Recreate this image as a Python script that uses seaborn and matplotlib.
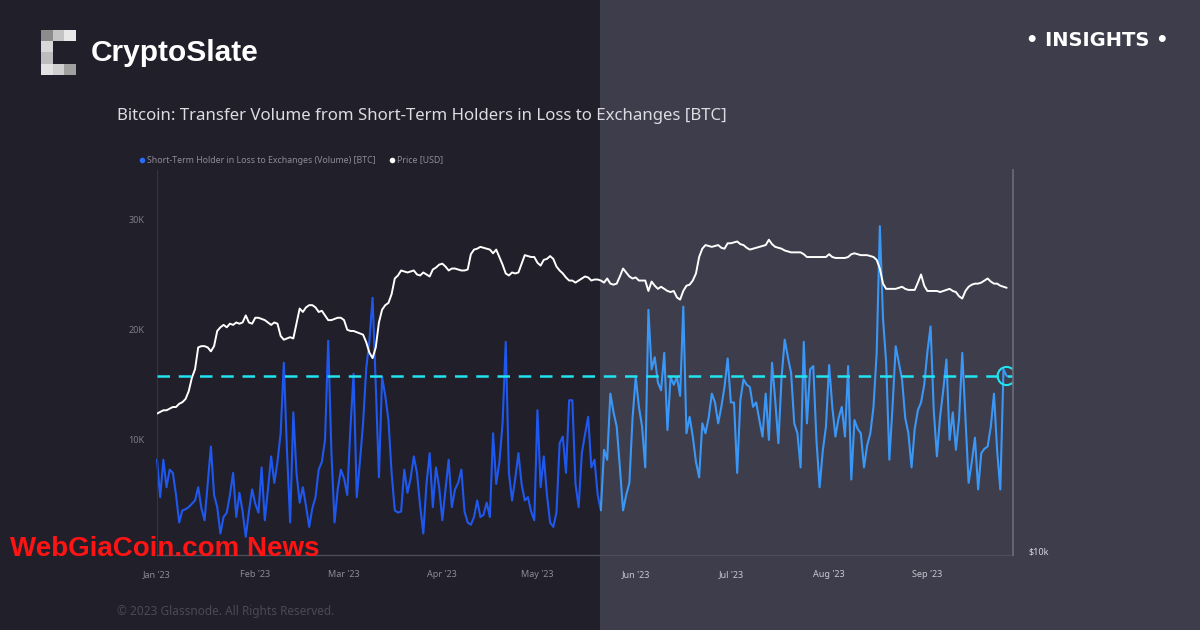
import numpy as np
import pandas as pd
import matplotlib
matplotlib.use("Agg")
import matplotlib.pyplot as plt
import matplotlib.dates as mdates
import matplotlib.ticker as mticker
from matplotlib.lines import Line2D
from matplotlib.patches import Rectangle
from matplotlib.transforms import Bbox, TransformedBbox
import seaborn as sns

# Volumen diario STH en pérdida -> exchanges (miles de BTC), por mes
vol_jan = [8.2, 4.8, 8.2, 5.7, 7.3, 7.0, 5.0, 2.5, 3.6, 3.7, 3.9, 4.2, 4.5, 5.7, 3.8, 2.7,
           6.0, 9.4, 5.0, 3.9, 1.5, 3.0, 3.4, 5.0, 7.0, 3.0, 5.2, 3.5, 1.2, 3.5, 5.5]
vol_feb = [4.2, 3.4, 7.5, 2.7, 5.5, 8.5, 6.1, 8.0, 10.6, 17.0, 9.0, 2.5, 12.5, 7.0, 4.3,
           5.7, 4.0, 2.1, 3.8, 4.8, 7.3, 8.0, 10.0, 19.0, 9.0, 2.5, 5.5, 7.3]
vol_mar = [6.5, 5.0, 11.0, 16.0, 4.8, 8.0, 11.5, 16.5, 19.0, 22.9, 15.0, 6.6, 15.7, 14.0,
           11.8, 7.0, 3.6, 3.4, 3.5, 7.3, 5.2, 6.5, 8.5, 7.0, 4.0, 1.5, 6.0, 8.8, 3.9, 7.5, 5.7]
vol_apr = [2.7, 5.5, 8.2, 3.9, 5.5, 6.1, 7.3, 3.5, 2.5, 2.3, 3.0, 4.5, 3.0, 3.2, 4.3,
           3.0, 10.6, 6.0, 8.0, 11.5, 18.9, 7.0, 4.5, 6.5, 8.8, 6.0, 4.5, 4.8, 3.5, 2.7]
vol_may = [12.7, 5.7, 8.5, 5.0, 2.5, 2.1, 3.4, 9.7, 10.3, 7.0, 13.6, 13.6, 6.0, 3.9, 8.8,
           10.5, 12.1, 7.5, 8.2, 5.0, 3.6, 9.1, 8.2, 14.2, 12.5, 11.2, 7.5, 3.6, 5.0, 6.1, 12.0]
vol_jun = [15.7, 13.0, 11.2, 7.5, 21.8, 16.4, 17.5, 15.2, 14.5, 17.9, 10.9, 15.7, 15.0,
           15.7, 14.0, 22.1, 10.6, 12.1, 10.3, 8.0, 6.6, 11.5, 10.6, 12.0, 14.2, 13.4,
           11.5, 13.0, 14.8, 17.4]
vol_jul = [13.4, 13.4, 7.0, 13.6, 15.5, 15.0, 14.8, 13.0, 13.4, 11.8, 10.3, 14.2, 10.0,
           17.0, 13.6, 9.7, 15.7, 19.1, 17.5, 16.1, 11.5, 10.6, 7.5, 18.9, 11.5, 16.4,
           16.7, 10.0, 5.7, 9.0, 11.2]
vol_aug = [16.8, 13.0, 10.3, 12.0, 13.0, 10.3, 16.7, 6.4, 11.8, 11.0, 10.6, 7.5, 9.5,
           10.6, 13.0, 17.9, 29.4, 21.0, 17.0, 8.2, 13.0, 18.5, 17.0, 15.5, 12.0, 10.6,
           7.5, 11.0, 12.7, 13.4, 15.0]
vol_sep = [18.0, 20.3, 12.7, 8.5, 12.1, 14.5, 17.3, 10.0, 12.5, 9.1, 12.0, 17.9, 12.0,
           6.1, 8.0, 10.2, 5.5, 8.8, 9.2, 9.4, 11.2, 14.2, 9.0, 5.5, 16.4, 15.8]

# Precio BTC (miles de USD), por mes
price_jan = [16.5, 16.6, 16.7, 16.7, 16.8, 16.9, 16.9, 17.1, 17.2, 17.4, 17.9, 18.8, 19.4,
             21.0, 21.1, 21.1, 21.0, 20.7, 21.1, 22.3, 22.6, 22.8, 22.6, 22.9, 22.8, 23.0,
             22.9, 23.0, 23.6, 23.0, 22.9]
price_feb = [23.4, 23.4, 23.3, 23.2, 23.0, 22.8, 23.0, 22.9, 21.9, 21.6, 21.7, 21.8, 21.7,
             22.9, 24.2, 23.9, 24.3, 24.5, 24.5, 24.3, 23.9, 24.0, 23.6, 23.2, 23.2, 23.3,
             23.4, 23.4]
price_mar = [23.2, 22.4, 22.3, 22.3, 22.2, 22.1, 22.0, 21.4, 20.6, 20.2, 21.0, 23.0, 24.1,
             24.5, 24.7, 25.5, 27.0, 27.3, 27.8, 27.7, 27.6, 27.7, 27.8, 27.4, 27.3, 27.6,
             27.4, 27.2, 27.9, 28.1, 28.4]
price_apr = [28.5, 28.2, 27.8, 28.0, 28.0, 27.9, 27.8, 27.8, 27.9, 29.5, 30.0, 30.1, 30.3,
             30.2, 30.1, 30.0, 29.6, 30.0, 29.2, 28.4, 27.5, 27.3, 27.6, 27.5, 27.6, 28.5,
             29.4, 29.3, 29.2, 29.2]
price_may = [28.6, 28.3, 28.9, 29.0, 29.3, 29.0, 28.2, 27.8, 27.5, 27.1, 26.8, 26.8, 26.6,
             26.8, 27.0, 27.2, 27.1, 26.8, 26.9, 26.9, 26.8, 26.6, 27.0, 26.5, 26.4, 26.5,
             27.2, 28.0, 27.6, 27.2, 27.0]
price_jun = [27.1, 26.8, 26.8, 26.8, 25.8, 26.7, 26.3, 26.0, 26.2, 26.0, 25.8, 25.7, 25.8,
             25.2, 25.0, 25.8, 26.3, 26.4, 26.8, 27.5, 29.2, 30.1, 30.5, 30.4, 30.3, 30.4,
             30.5, 30.2, 30.1, 30.7]
price_jul = [30.7, 30.8, 30.9, 30.6, 30.5, 30.2, 30.0, 30.1, 30.2, 30.3, 30.4, 30.5, 31.1,
             30.6, 30.3, 30.2, 30.1, 29.9, 29.8, 29.7, 29.7, 29.7, 29.7, 29.5, 29.2, 29.2,
             29.2, 29.2, 29.2, 29.2, 29.2]
price_aug = [29.5, 29.2, 29.1, 29.1, 29.1, 29.1, 29.2, 29.5, 29.6, 29.5, 29.4, 29.4, 29.4,
             29.3, 29.2, 28.9, 28.0, 26.5, 26.0, 26.0, 26.0, 26.0, 26.1, 26.2, 26.0, 25.9,
             25.9, 25.9, 26.6, 27.4, 26.3]
price_sep = [25.8, 25.8, 25.8, 25.8, 25.7, 25.8, 25.9, 26.0, 25.8, 25.7, 25.3, 25.1, 25.8,
             26.2, 26.4, 26.5, 26.5, 26.6, 26.8, 27.0, 26.7, 26.5, 26.5, 26.3, 26.2, 26.1]

start_date = "2023-01-01"
ref_level = 15.8  # nivel de referencia (miles de BTC)
vol_ticks = [10, 20, 30]

volume = np.array(vol_jan + vol_feb + vol_mar + vol_apr + vol_may + vol_jun
                  + vol_jul + vol_aug + vol_sep) * 1000
price = np.array(price_jan + price_feb + price_mar + price_apr + price_may + price_jun
                 + price_jul + price_aug + price_sep) * 1000
dates = pd.date_range(start_date, periods=len(volume), freq="D")
df = pd.DataFrame({"date": dates, "volume": volume, "price": price})

# Estilo
sns.set_theme(style="dark")
plt.rcParams['font.family'] = ['Noto Sans', 'DejaVu Sans']

W, H = 1200, 630
fig = plt.figure(figsize=(12, 6.3), dpi=100)
fig.patch.set_facecolor('#211f2a')
fig.patches.append(Rectangle((0.5, 0), 0.5, 1, transform=fig.transFigure,
                             facecolor='#3e3d4b', edgecolor='none', zorder=-10))

ax = fig.add_axes([157 / W, 1 - 555 / H, 856 / W, 385 / H])
ax.set_facecolor('none')

# Volumen: mitad izquierda azul oscuro, mitad derecha azul claro
left_clip = TransformedBbox(Bbox([[0, 0], [0.5, 1]]), fig.transFigure)
right_clip = TransformedBbox(Bbox([[0.5, 0], [1, 1]]), fig.transFigure)
sns.lineplot(data=df, x="date", y="volume", ax=ax, color='#1f58ee', lw=1.5)
ax.lines[-1].set_clip_box(left_clip)
sns.lineplot(data=df, x="date", y="volume", ax=ax, color='#3b97f6', lw=1.5)
ax.lines[-1].set_clip_box(right_clip)

ax.axhline(ref_level * 1000, color='#22e4f0', lw=1.8, ls=(0, (5, 3.5)), zorder=5)
ax.scatter([dates[-1]], [volume[-1]], s=170, facecolor='none', edgecolor='#22e4f0',
           lw=1.5, zorder=6)

ax.set_ylim(-450, 34500)
ax.set_xlim(dates[0], dates[0] + pd.Timedelta(days=270))
ax.set_yticks([v * 1000 for v in vol_ticks])
ax.set_yticklabels([f"{v}K" for v in vol_ticks])
ax.xaxis.set_major_locator(mdates.MonthLocator())
ax.xaxis.set_major_formatter(mdates.DateFormatter("%b '%y"))
ax.tick_params(axis='x', length=0, pad=11, labelsize=6.5, colors='#8b8a96')
ax.tick_params(axis='y', length=0, pad=9, labelsize=6.5, colors='#7e7d89')
for i, lbl in enumerate(ax.get_xticklabels()):
    if i >= 5:
        lbl.set_color('#c8c7d1')
ax.set_xlabel('')
ax.set_ylabel('')
ax.grid(False)
for s in ['top', 'right']:
    ax.spines[s].set_visible(False)
ax.spines['left'].set_color('#36353f')
ax.spines['left'].set_linewidth(0.8)
ax.spines['bottom'].set_color('#4d4c5a')
ax.spines['bottom'].set_linewidth(1.0)

# Precio en eje logarítmico
ax2 = ax.twinx()
ax2.set_facecolor('none')
sns.lineplot(data=df, x="date", y="price", ax=ax2, color='white', lw=1.4)
ax2.set_yscale('log')
ax2.set_ylim(9854, 40100)
ax2.set_xlim(ax.get_xlim())
ax2.yaxis.set_major_locator(mticker.FixedLocator([10000]))
ax2.yaxis.set_minor_locator(mticker.NullLocator())
ax2.yaxis.set_major_formatter(mticker.FixedFormatter(['$10k']))
ax2.tick_params(axis='y', length=0, pad=11, labelsize=6.5, colors='#d8d7e0')
ax2.set_xlabel('')
ax2.set_ylabel('')
ax2.grid(False)
for s in ['top', 'left', 'bottom']:
    ax2.spines[s].set_visible(False)
ax2.spines['right'].set_color('#6e6d7d')
ax2.spines['right'].set_linewidth(1.2)

# Leyenda
handles = [
    Line2D([], [], marker='o', ls='none', markerfacecolor='#2a6cff', markeredgecolor='none',
           markersize=4, label='Short-Term Holder in Loss to Exchanges (Volume) [BTC]'),
    Line2D([], [], marker='o', ls='none', markerfacecolor='white', markeredgecolor='none',
           markersize=4, label='Price [USD]'),
]
ax2.legend(handles=handles, loc='lower left', bbox_to_anchor=(-0.027, 1.005), ncol=2,
           frameon=False, fontsize=6.3, labelcolor='#8d8c98', handletextpad=0.1,
           columnspacing=1.4, handlelength=1.0, borderaxespad=0)

# Logo CryptoSlate
cw, ch = 11.7, 11.25
cells = [(0, 0, '#8c8c8c'), (1, 0, '#c4c4c4'), (2, 0, '#e8e8e8'),
         (0, 1, '#d8d8d8'), (0, 2, '#bdbdbd'),
         (0, 3, '#e2e2e2'), (1, 3, '#cfcfcf'), (2, 3, '#a0a0a0')]
for cx, cy, col in cells:
    x0 = 41 + cx * cw
    y0 = 30 + cy * ch
    fig.patches.append(Rectangle((x0 / W, 1 - (y0 + ch) / H), cw / W, ch / H,
                                 transform=fig.transFigure, facecolor=col,
                                 edgecolor='none', zorder=1))

fig.text(91 / W, 1 - 53 / H, 'CryptoSlate', fontsize=21.5, weight='bold', color='white',
         va='center', ha='left', family=['Liberation Sans', 'DejaVu Sans'])
fig.text(1168 / W, 1 - 41 / H, '• INSIGHTS •', fontsize=14, weight='bold', color='white',
         va='center', ha='right', family=['DejaVu Sans'])
fig.text(117 / W, 1 - 116 / H,
         'Bitcoin: Transfer Volume from Short-Term Holders in Loss to Exchanges [BTC]',
         fontsize=12.1, color='#dcdbe2', va='center', ha='left')
fig.text(117 / W, 1 - 611 / H, '© 2023 Glassnode. All Rights Reserved.', fontsize=8.5,
         color='#4a4955', va='center', ha='left')
fig.text(10 / W, 1 - 549 / H, 'WebGiaCoin.com News', fontsize=20, weight='bold',
         color='#ff1414', va='center', ha='left',
         family=['Liberation Sans', 'DejaVu Sans'], zorder=20)

fig.savefig('out.png', dpi=100, facecolor=fig.get_facecolor())
